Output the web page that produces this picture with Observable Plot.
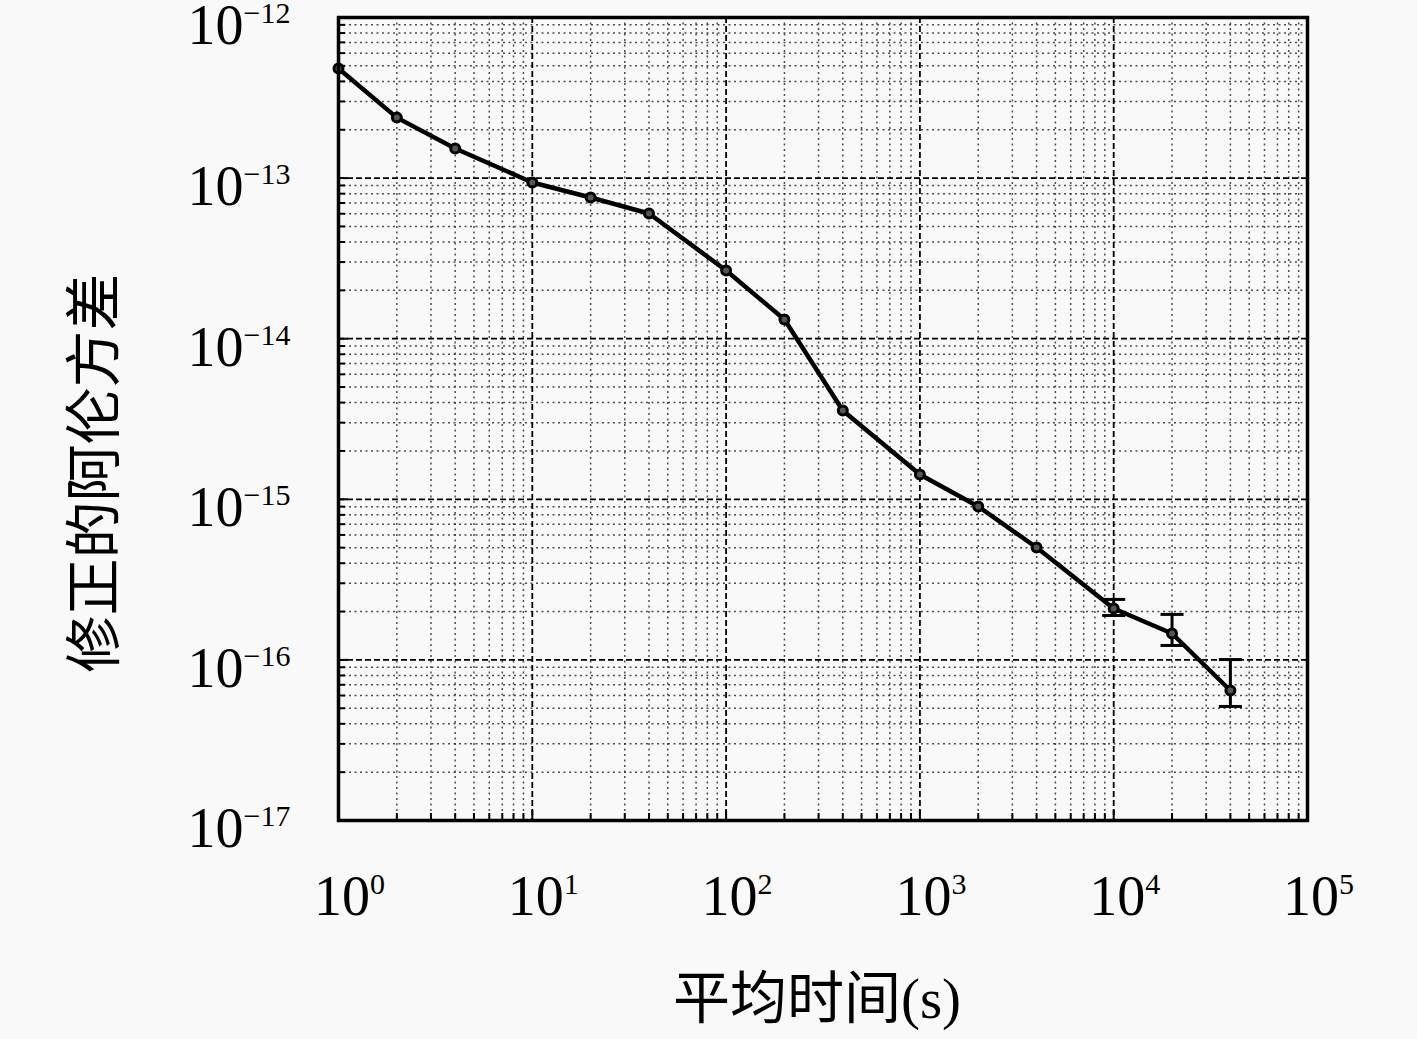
<!DOCTYPE html>
<html><head><meta charset="utf-8">
<script src="https://cdn.jsdelivr.net/npm/d3@7"></script>
<script src="https://cdn.jsdelivr.net/npm/@observablehq/plot@0.6"></script>
<style>html,body{margin:0;padding:0;background:#f9f9f9;overflow:hidden}</style>
</head><body><div id="chart"></div>
<script>
// Data
const tau  = [1, 2, 4, 10, 20, 40, 100, 200, 400, 1000, 2000, 4000, 10000, 20000, 40000];
const mvar = [4.81e-13, 2.38e-13, 1.53e-13, 9.39e-14, 7.57e-14, 6.02e-14, 2.66e-14, 1.317e-14,
              3.57e-15, 1.427e-15, 9.02e-16, 5.01e-16, 2.09e-16, 1.46e-16, 6.45e-17];
const errTau  = [10000, 20000, 40000];
const errLow  = [1.89e-16, 1.23e-16, 5.13e-17];
const errHigh = [2.38e-16, 1.92e-16, 1.005e-16];

// Tick labels
const xDecades = [0, 1, 2, 3, 4, 5];
const yDecades = [-17, -16, -15, -14, -13, -12];
const minorMult = [2, 3, 4, 5, 6, 7, 8, 9];
const xTitle = "平均时间(s)";
const yTitle = "修正的阿伦方差";

const xMajor = xDecades.map(d => 10 ** d);
const yMajor = yDecades.map(d => 10 ** d);
const xMinor = xDecades.slice(0, -1).flatMap(d => minorMult.map(m => m * 10 ** d));
const yMinor = yDecades.slice(0, -1).flatMap(d => minorMult.map(m => m * 10 ** d));

const points = tau.map((t, i) => ({t, v: mvar[i]}));
const errs = errTau.map((t, i) => ({t, lo: errLow[i], hi: errHigh[i]}));

const W = 1417, H = 1039, mL = 338, mR = 110, mT = 17, mB = 219;
const innerW = W - mL - mR, innerH = H - mT - mB;
const serif = "'Liberation Serif','DejaVu Serif',serif";
const cjk = "'Liberation Serif','Noto Sans CJK SC',sans-serif";

const capSymbol = {draw(ctx, size) { const w = Math.sqrt(size); ctx.moveTo(-w, 0); ctx.lineTo(w, 0); }};

const chart = Plot.plot({
  width: W, height: H,
  marginLeft: mL, marginRight: mR, marginTop: mT, marginBottom: mB,
  style: {background: "#f9f9f9", overflow: "visible"},
  x: {type: "log", domain: [1, 1e5], axis: null},
  y: {type: "log", domain: [1e-17, 1e-12], axis: null},
  marks: [
    Plot.ruleX(xMinor, {x: d => d, stroke: "#222", strokeWidth: 1.5, strokeDasharray: "2,3.5", strokeOpacity: 0.8}),
    Plot.ruleY(yMinor, {y: d => d, stroke: "#222", strokeWidth: 1.5, strokeDasharray: "2,3.5", strokeOpacity: 0.8}),
    Plot.ruleX(xMajor, {x: d => d, stroke: "#000", strokeWidth: 1.8, strokeDasharray: "6,3"}),
    Plot.ruleY(yMajor, {y: d => d, stroke: "#000", strokeWidth: 1.8, strokeDasharray: "6,3"}),
    Plot.tickX(xMinor, {x: d => d, insetTop: innerH - 7, stroke: "#000", strokeWidth: 2}),
    Plot.tickX(xMajor, {x: d => d, insetTop: innerH - 10, stroke: "#000", strokeWidth: 2}),
    Plot.tickY(yMinor, {y: d => d, insetRight: innerW - 7, stroke: "#000", strokeWidth: 2}),
    Plot.tickY(yMajor, {y: d => d, insetRight: innerW - 10, stroke: "#000", strokeWidth: 2}),
    Plot.line(points, {x: "t", y: "v", stroke: "#000", strokeWidth: 4.5, strokeLinejoin: "round"}),
    Plot.ruleX(errs, {x: "t", y1: "lo", y2: "hi", stroke: "#000", strokeWidth: 3}),
    Plot.dot(errs, {x: "t", y: "lo", symbol: capSymbol, r: 6.5, stroke: "#000", strokeWidth: 3, fill: "none"}),
    Plot.dot(errs, {x: "t", y: "hi", symbol: capSymbol, r: 6.5, stroke: "#000", strokeWidth: 3, fill: "none"}),
    Plot.dot(points, {x: "t", y: "v", r: 4.5, stroke: "#000", strokeWidth: 3, fill: "#555"}),
    Plot.frame({stroke: "#000", strokeWidth: 3.5}),
    Plot.text(xDecades, {x: d => 10 ** d, frameAnchor: "bottom", text: d => "10^" + d, dy: 94, dx: 11,
      fontSize: 56, fontFamily: serif, fill: "#000", textAnchor: "middle"}),
    Plot.text(yDecades, {y: d => 10 ** d, frameAnchor: "left", text: d => "10^" + d, dx: -48, dy: 9,
      fontSize: 56, fontFamily: serif, fill: "#000", textAnchor: "end"}),
    Plot.text([xTitle], {frameAnchor: "bottom", text: d => d, dy: 197, dx: -6, fontSize: 57, fontFamily: cjk, fill: "#000", textAnchor: "middle"}),
    Plot.text([yTitle], {frameAnchor: "left", text: d => d, rotate: -90, dx: -243, dy: 54, fontSize: 57, fontFamily: cjk, fill: "#000", textAnchor: "middle"})
  ]
});

// render exponents as superscripts
const ns = "http://www.w3.org/2000/svg";
chart.querySelectorAll("text").forEach(t => {
  if (!t.textContent.includes("^")) return;
  const [base, exp] = t.textContent.split("^");
  while (t.firstChild) t.removeChild(t.firstChild);
  const b = document.createElementNS(ns, "tspan"); b.textContent = base; t.appendChild(b);
  const s = document.createElementNS(ns, "tspan");
  s.textContent = exp.replace("-", "\u2212");
  s.setAttribute("font-size", "30");
  s.setAttribute("dy", "-21");
  t.appendChild(s);
});
document.getElementById("chart").appendChild(chart);
</script></body></html>
